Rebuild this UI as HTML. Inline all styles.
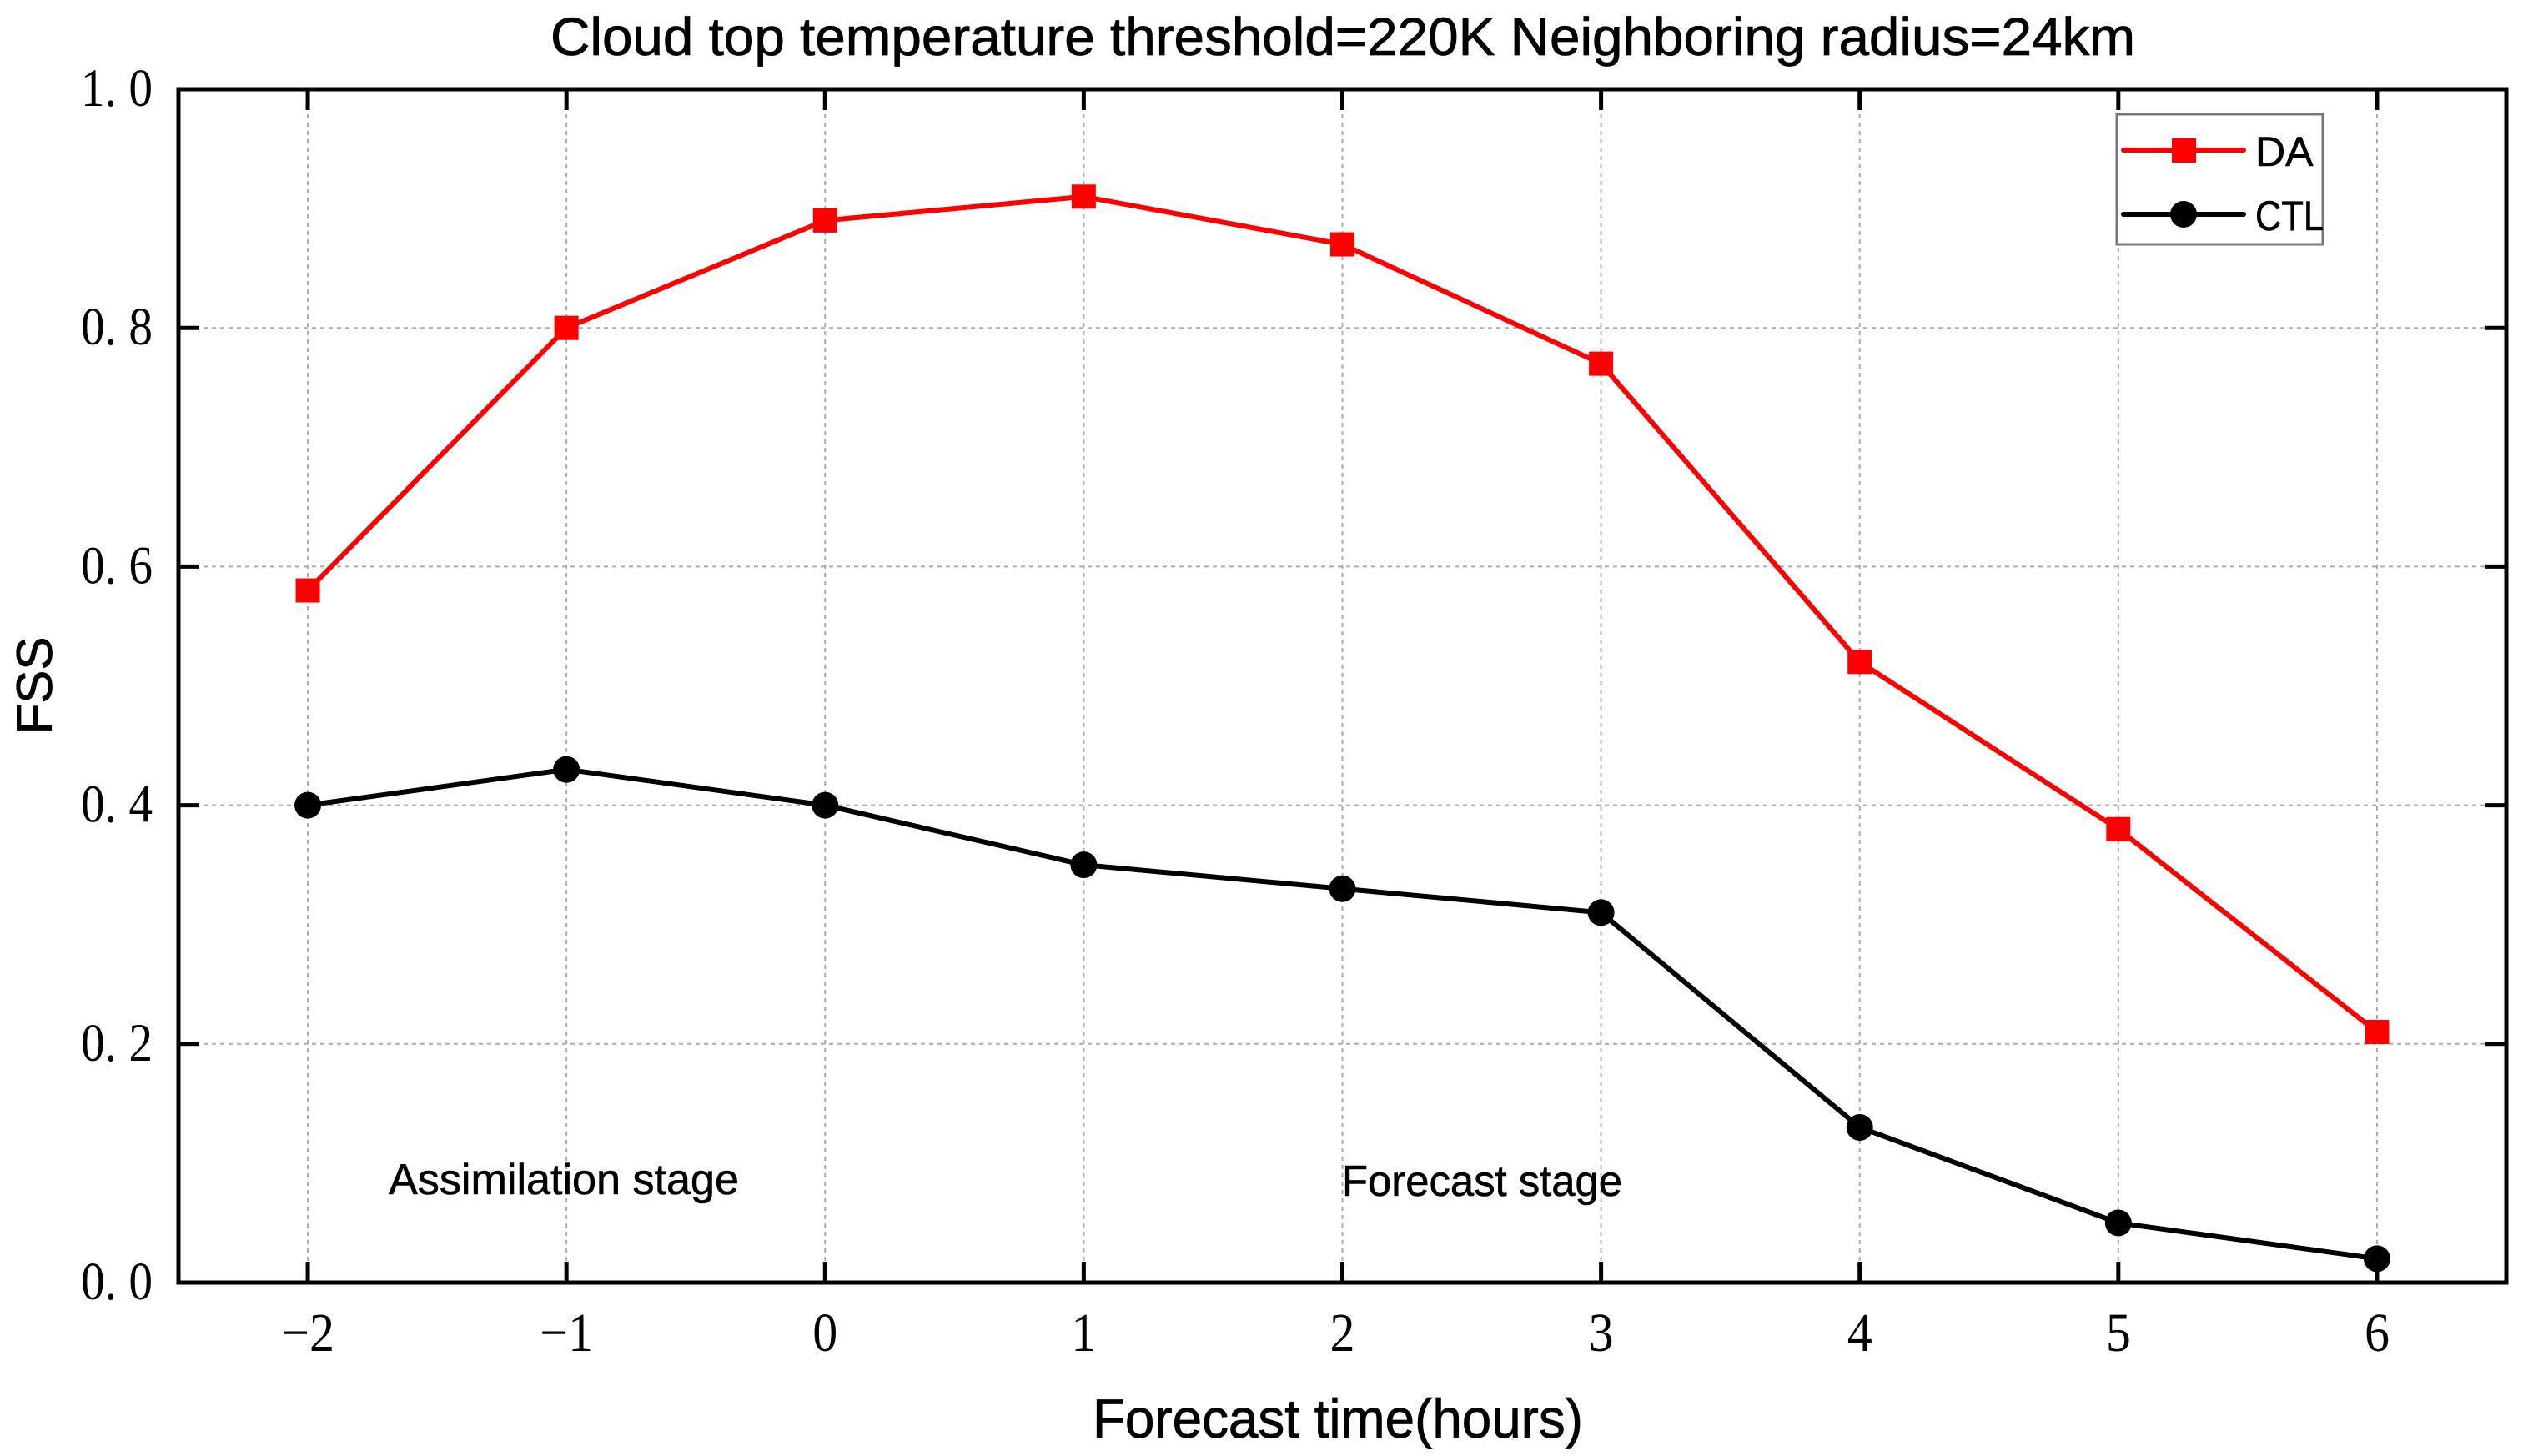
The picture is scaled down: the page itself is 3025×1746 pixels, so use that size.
<!DOCTYPE html>
<html><head><meta charset="utf-8"><style>html,body{margin:0;padding:0;background:#fff;}svg{display:block}</style></head>
<body>
<svg id="chart" xmlns="http://www.w3.org/2000/svg" width="3025" height="1746" viewBox="0 0 3025 1746">
<rect x="0" y="0" width="3025" height="1746" fill="#fff"/>
<text x="1610" y="66" text-anchor="middle" font-family="Liberation Sans, sans-serif" font-size="64" stroke="#000" stroke-width="0.8" textLength="1900" lengthAdjust="spacingAndGlyphs">Cloud top temperature threshold=220K Neighboring radius=24km</text>
<g id="grid"></g>
<g id="series"></g>
<rect x="214" y="107" width="2791" height="1431" fill="none" stroke="#000" stroke-width="5"/>
<g id="ticks"></g>
<text x="676" y="1432" text-anchor="middle" font-family="Liberation Sans, sans-serif" font-size="52" stroke="#000" stroke-width="0.6" textLength="420" lengthAdjust="spacingAndGlyphs">Assimilation stage</text>
<text x="1777" y="1434" text-anchor="middle" font-family="Liberation Sans, sans-serif" font-size="52" stroke="#000" stroke-width="0.6" textLength="336" lengthAdjust="spacingAndGlyphs">Forecast stage</text>
<text x="1604" y="1724" text-anchor="middle" font-family="Liberation Sans, sans-serif" font-size="66" stroke="#000" stroke-width="0.8" textLength="588" lengthAdjust="spacingAndGlyphs">Forecast time(hours)</text>
<text transform="translate(62,822) rotate(-90)" text-anchor="middle" font-family="Liberation Sans, sans-serif" font-size="60" stroke="#000" stroke-width="0.8">FSS</text>
<g>
<rect x="2538" y="137" width="247" height="156" fill="#fff" stroke="#777" stroke-width="3"/>
<g>
<line x1="2546" y1="180" x2="2690" y2="180" stroke="#ff0000" stroke-width="6" stroke-linecap="round"/>
<rect x="2604" y="166" width="29" height="29" fill="#ff0000"/>
<text x="2704" y="199" font-family="Liberation Sans, sans-serif" font-size="50" stroke="#000" stroke-width="0.6">DA</text>
</g>
<g>
<line x1="2546" y1="257" x2="2690" y2="257" stroke="#000" stroke-width="6" stroke-linecap="round"/>
<circle cx="2618" cy="257" r="16" fill="#000"/>
<text x="2704" y="276" font-family="Liberation Sans, sans-serif" font-size="50" stroke="#000" stroke-width="0.6" textLength="82" lengthAdjust="spacingAndGlyphs">CTL</text>
</g>
</g>
</svg>
<script>
const hours = [-2, -1, 0, 1, 2, 3, 4, 5, 6];
const daValues = [0.58, 0.80, 0.89, 0.91, 0.87, 0.77, 0.52, 0.38, 0.21];
const ctlValues = [0.40, 0.43, 0.40, 0.35, 0.33, 0.31, 0.13, 0.05, 0.02];
const yTicks = [0, 0.2, 0.4, 0.6, 0.8, 1.0];
const yTickLabels = ["0. 0", "0. 2", "0. 4", "0. 6", "0. 8", "1. 0"];
const xTickLabels = ["\u22122", "\u22121", "0", "1", "2", "3", "4", "5", "6"];

const NS = "http://www.w3.org/2000/svg";
const L = 214, R = 3005, T = 107, B = 1538;
const xMin = -2.5, xMax = 6.5, yMin = 0, yMax = 1;
function xs(v){ return L + (v - xMin) / (xMax - xMin) * (R - L); }
function ys(v){ return B - (v - yMin) / (yMax - yMin) * (B - T); }
function mk(tag, attrs, parent){ const e = document.createElementNS(NS, tag); for (const k in attrs) e.setAttribute(k, attrs[k]); parent.appendChild(e); return e; }

const grid = document.getElementById('grid');
const ticks = document.getElementById('ticks');
const series = document.getElementById('series');

hours.forEach((h, i) => {
  const x = xs(h);
  const g = mk('line', {x1: x, y1: T, x2: x, y2: B, stroke: '#aaa', 'stroke-width': 2, 'stroke-dasharray': '5 5'}, grid);
  
  
  const t1 = mk('line', {x1: x, y1: B, x2: x, y2: B - 25, stroke: '#000', 'stroke-width': 5}, ticks);
  
  
  const t2 = mk('line', {x1: x, y1: T, x2: x, y2: T + 25, stroke: '#000', 'stroke-width': 5}, ticks);
  
  
  const lb = mk('text', {x: x, y: 1620, 'text-anchor': 'middle', 'font-family': 'Liberation Serif, serif', 'font-size': 60, transform: 'translate(' + x + ',1620) scale(1,1.1) translate(' + (-x) + ',-1620)'}, ticks);
  lb.textContent = xTickLabels[i];
  
  
});

yTicks.forEach((v, i) => {
  const y = ys(v);
  if (v > yMin && v < yMax) {
    const g = mk('line', {x1: L, y1: y, x2: R, y2: y, stroke: '#aaa', 'stroke-width': 2, 'stroke-dasharray': '5 5'}, grid);
    
    
  }
  const t1 = mk('line', {x1: L, y1: y, x2: L + 25, y2: y, stroke: '#000', 'stroke-width': 5}, ticks);
  
  
  const t2 = mk('line', {x1: R, y1: y, x2: R - 25, y2: y, stroke: '#000', 'stroke-width': 5}, ticks);
  
  
  const by = y + 20;
  const lb = mk('text', {x: 183, y: by, 'text-anchor': 'end', 'font-family': 'Liberation Serif, serif', 'font-size': 56, textLength: 86, lengthAdjust: 'spacingAndGlyphs', transform: 'translate(0,' + by + ') scale(1,1.15) translate(0,' + (-by) + ')'}, ticks);
  lb.textContent = yTickLabels[i];
  
  
});

function drawSeries(vals, color, shape, name){
  const pts = vals.map((v, i) => xs(hours[i]) + ',' + ys(v)).join(' ');
  const pl = mk('polyline', {points: pts, fill: 'none', stroke: color, 'stroke-width': 6, 'stroke-linejoin': 'round'}, series);
  
  
  vals.forEach((v, i) => {
    const cx = xs(hours[i]), cy = ys(v);
    let m;
    if (shape === 'square') m = mk('rect', {x: cx - 14.5, y: cy - 14.5, width: 29, height: 29, fill: color}, series);
    else m = mk('circle', {cx: cx, cy: cy, r: 16, fill: color}, series);
    
    
  });
}
drawSeries(ctlValues, '#000', 'circle', 'ctl');
drawSeries(daValues, '#ff0000', 'square', 'da');
</script>
</body></html>
